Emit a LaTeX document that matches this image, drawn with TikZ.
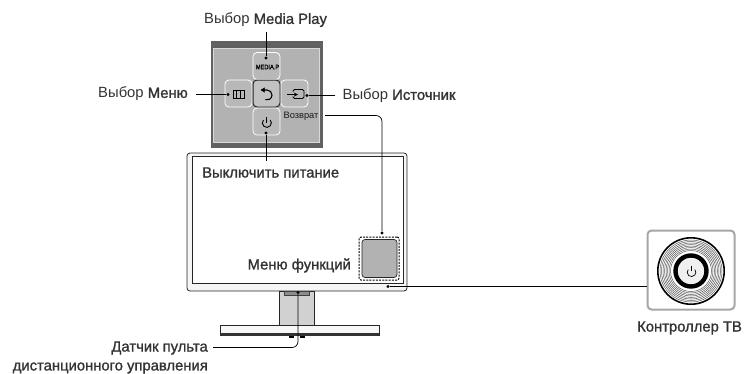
\documentclass[tikz,border=0pt]{standalone}
\usepackage{fontspec}
\setmainfont{Liberation Sans}
\newfontfamily\medfont[FakeBold=1.2]{Liberation Sans}
\tikzset{
  lbl/.style={inner sep=0pt,font=\fontsize{14.8}{16}\selectfont,text=black!80},
  keybtn/.style={draw=white,line width=0.8pt,rounded corners=4pt,fill=black!28,minimum width=27pt,minimum height=27pt,inner sep=0pt},
  pin/.style={circle,fill=black,inner sep=0pt,minimum size=3.2pt},
  lead/.style={draw=black,line width=0.7pt},
  icon/.style={draw=black,line width=0.9pt}
}
\begin{document}
\begin{tikzpicture}[x=1pt,y=-1pt]
\useasboundingbox (0,0) rectangle (744,373);
% key panel
\node[fill=black!62,minimum width=112pt,minimum height=107pt,inner sep=0pt] (panel) at (267,94.5) {};
\node[draw=white!85!black,line width=0.6pt,fill=black!30,minimum width=106pt,minimum height=94pt,inner sep=0pt] (face) at (266.5,95) {};
\node[keybtn] (bmedia) at (266.5,66) {};
\node[keybtn] (bmenu) at (238.5,93.5) {};
\node[keybtn,draw=black!85,line width=1pt,fill=black!24] (bback) at (266.5,93.5) {};
\node[keybtn] (bsource) at (294.5,93.5) {};
\node[keybtn] (bpower) at (266.5,121.5) {};
\node[inner sep=0pt,font=\fontsize{6.5}{7}\selectfont\medfont,xscale=0.87] (tmedia) at (267.5,67) {MEDIA.P};
\node[inner sep=0pt,font=\fontsize{9.3}{10}\selectfont,text=black!90] (tback) at (301,116) {Возврат};
% key icons
\draw[icon] (233,90.5) rectangle (244,98.5) (236.7,90.5) -- (236.7,98.5) (240.3,90.5) -- (240.3,98.5);
\draw[icon,line width=1.1pt] (263.5,90) -- (267,90) arc[start angle=-90,end angle=110,radius=5];
\draw[fill=black] (261,90) -- (264.5,87.8) -- (264.5,92.2) -- cycle;
\draw[icon,rounded corners=1.5pt] (293,91.5) -- (293,89.5) -- (304,89.5) -- (304,98.5) -- (293,98.5) -- (293,96.5);
\draw[icon,-stealth] (287,94.5) -- (298,94.5);
\draw[icon] (263.4,120) arc[start angle=-140,end angle=-400,radius=4.5];
\draw[icon] (266.8,117) -- (266.8,123);
% monitor
\node[draw=black!85,line width=0.8pt,rounded corners=3pt,fill=black!4,minimum width=220pt,minimum height=138pt,inner sep=0pt] (frame) at (297,222) {};
\node[draw=black!85,line width=0.8pt,fill=white,minimum width=211pt,minimum height=127pt,inner sep=0pt] (screen) at (297.5,219.5) {};
\node[draw=black,dash pattern=on 2pt off 1.2pt,line width=1pt,rounded corners=2pt,minimum width=40pt,minimum height=43pt,inner sep=0pt] (zone) at (379,258.5) {};
\node[draw=black!85,line width=0.7pt,rounded corners=3pt,fill=black!30,minimum width=35pt,minimum height=38pt,inner sep=0pt] (fpanel) at (379.5,258.5) {};
% stand
\node[draw=black!85,line width=0.8pt,fill=black!18,minimum width=35pt,minimum height=34pt,inner sep=0pt] (neck) at (296.5,308) {};
\node[draw=black!75,line width=0.5pt,fill=black!45,minimum width=25pt,minimum height=4pt,inner sep=0pt] (sensor) at (296.5,293) {};
\node[draw=black!85,line width=0.8pt,fill=black!3,minimum width=159pt,minimum height=10pt,inner sep=0pt] (base) at (299.5,330) {};
\node[fill=black!80,minimum width=159pt,minimum height=2.4pt,inner sep=0pt] (basebar) at (299.5,334.6) {};
\node[fill=black,minimum width=5pt,minimum height=1.5pt,inner sep=0pt] (footl) at (291,336.8) {};
\node[fill=black,minimum width=5pt,minimum height=1.5pt,inner sep=0pt] (footr) at (302,336.8) {};
% controller
\node[draw=black!35,line width=2pt,rounded corners=4pt,minimum width=87pt,minimum height=79pt,inner sep=0pt] (ctrlbox) at (691,270) {};
\foreach \r in {20.5,22,...,32}
  \draw[black!65,line width=0.5pt] (691,271) circle[radius=\r];
\draw[black,line width=1.6pt] (691,271) circle[radius=33.2];
\draw[black,line width=4.4pt,fill=black!6] (691,271) circle[radius=15.5];
\draw[icon,line width=0.7pt] (688.2,269.5) arc[start angle=-140,end angle=-400,radius=4.3];
\draw[icon,line width=0.7pt] (691.5,265.5) -- (691.5,271);
% labels
\node[lbl,anchor=west] (lmedia) at (204,20) {Выбор {\medfont Media Play}};
\node[lbl,anchor=east] (lmenu) at (188,94) {Выбор {\medfont Меню}};
\node[lbl,anchor=west] (lsource) at (342.5,96) {Выбор {\medfont Источник}};
\node[lbl,anchor=west] (lpower) at (202,172.5) {\medfont Выключить питание};
\node[lbl,anchor=east] (lfunc) at (351,265.5) {\medfont Меню функций};
\node[lbl,anchor=west] (lctrl) at (637,328) {\medfont Контроллер ТВ};
\node[lbl,anchor=east] (lsensor) at (208,348) {\medfont Датчик пульта};
\node[lbl,anchor=east] (lsensorb) at (208,368) {\medfont дистанционного управления};
% pins
\node[pin] (pmedia) at (266,58) {};
\node[pin] (pmenu) at (228,94.5) {};
\node[pin] (psource) at (307,95.5) {};
\node[pin] (ppower) at (266,133) {};
\node[pin] (pzone) at (382,233) {};
\node[pin] (pctrl) at (388,286.5) {};
\node[pin] (psensor) at (298,292.5) {};
\coordinate (cmedia) at (266,32);
\coordinate (cmenu) at (195.5,94.5);
\coordinate (csource) at (335,95.5);
\coordinate (cpower) at (266,161);
\coordinate (cback) at (325,115.5);
\coordinate (csensor) at (213,347.5);
% leaders
\draw[lead] (cmedia) -- (pmedia);
\draw[lead] (cmenu) -- (pmenu);
\draw[lead] (csource) -- (psource);
\draw[lead] (cpower) -- (ppower);
\draw[lead,rounded corners=6pt] (cback) -| (pzone);
\draw[lead] (pctrl) -- (pctrl -| ctrlbox.west);
\draw[lead,rounded corners=6pt] (csensor) -| (psensor);
\end{tikzpicture}
\end{document}
